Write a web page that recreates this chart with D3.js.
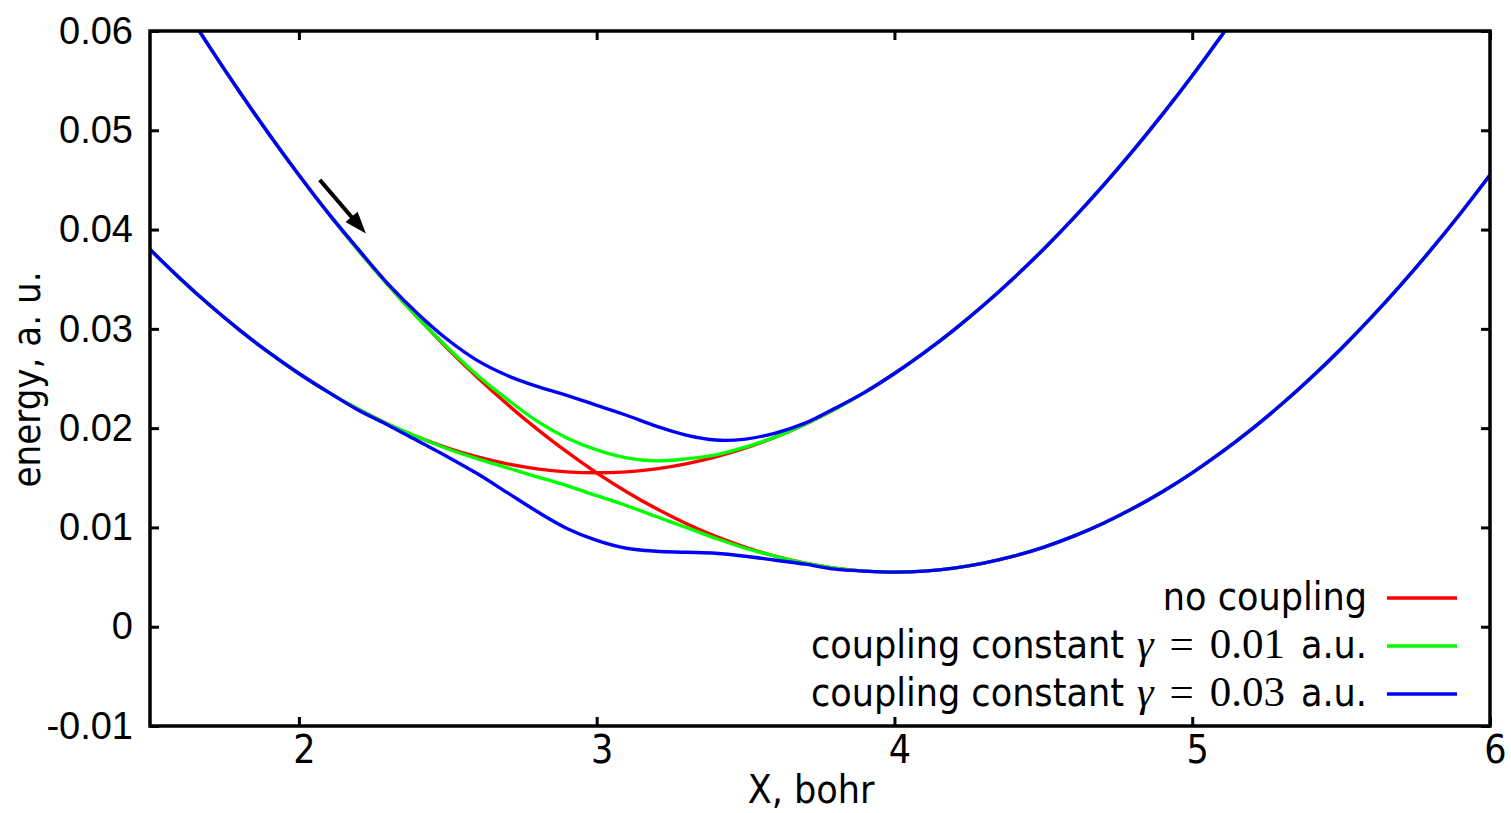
<!DOCTYPE html>
<html>
<head>
<meta charset="utf-8">
<script src="https://cdn.jsdelivr.net/npm/d3@7/dist/d3.min.js"></script>
<style>
  body { margin: 0; background: #fff; }
  svg { display: block; }
  .sans { font-family: "DejaVu Sans Condensed", "DejaVu Sans", sans-serif; font-stretch: condensed; }
  .math { font-family: "Liberation Serif", "DejaVu Serif", serif; }
  .axis--y text { font-family: "Liberation Sans", Arial, sans-serif; font-size: 38px; fill: #000; }
  .axis--x text { font-family: "DejaVu Sans Condensed", "DejaVu Sans", sans-serif; font-stretch: condensed; font-size: 39px; fill: #000; }
  .axis line { stroke: #000; stroke-width: 3px; }
</style>
</head>
<body>
<div id="chart"></div>
<script>

// Sampling grid along X (bohr)
var xGrid = [1.5, 1.6, 1.7, 1.8, 1.9, 2.0, 2.1, 2.2, 2.3, 2.4,
             2.5, 2.6, 2.7, 2.8, 2.9, 3.0, 3.1, 3.2, 3.3, 3.4,
             3.5, 3.6, 3.7, 3.8, 3.9, 4.0, 4.1, 4.2, 4.3, 4.4,
             4.5, 4.6, 4.7, 4.8, 4.9, 5.0, 5.1, 5.2, 5.3, 5.4,
             5.5, 5.6, 5.7, 5.8, 5.9, 6.0];

// No coupling: the two crossing curves
var noCouplingA = [0.0380, 0.0351, 0.0324, 0.0299, 0.0276, 0.0255, 0.0236, 0.0219, 0.0204, 0.0191,
                   0.0180, 0.0171, 0.0164, 0.0159, 0.0156, 0.0155, 0.0156, 0.0159, 0.0164, 0.0171,
                   0.0180, 0.0191, 0.0204, 0.0219, 0.0236, 0.0255, 0.0276, 0.0299, 0.0324, 0.0351,
                   0.0380, 0.0411, 0.0444, 0.0479, 0.0516, 0.0555, 0.0596, 0.0639, 0.0684, null,
                   null, null, null, null, null, null];
var noCouplingB = [0.0680, 0.0631, 0.0584, 0.0539, 0.0496, 0.0455, 0.0416, 0.0379, 0.0344, 0.0311,
                   0.0280, 0.0251, 0.0224, 0.0199, 0.0176, 0.0155, 0.0136, 0.0119, 0.0104, 0.0091,
                   0.0080, 0.0071, 0.0064, 0.0059, 0.0056, 0.0055, 0.0056, 0.0059, 0.0064, 0.0071,
                   0.0080, 0.0091, 0.0104, 0.0119, 0.0136, 0.0155, 0.0176, 0.0199, 0.0224, 0.0251,
                   0.0280, 0.0311, 0.0344, 0.0379, 0.0416, 0.0455];

// Coupling constant 0.01 a.u.
var weakUpper = [0.0680, 0.0631, 0.0584, 0.0539, 0.0496, 0.0455, 0.0416, 0.0379, 0.0344, 0.0311,
                 0.0281, 0.0253, 0.0229, 0.0207, 0.0190, 0.0178, 0.0170, 0.0167, 0.0169, 0.0173,
                 0.0181, 0.0191, 0.0204, 0.0219, 0.0236, 0.0255, 0.0276, 0.0299, 0.0324, 0.0351,
                 0.0380, 0.0411, 0.0444, 0.0479, 0.0516, 0.0555, 0.0596, 0.0639, 0.0684, null,
                 null, null, null, null, null, null];
var weakLower = [0.0380, 0.0351, 0.0324, 0.0299, 0.0276, 0.0255, 0.0236, 0.0219, 0.0204, 0.0191,
                 0.0179, 0.0169, 0.0160, 0.0151, 0.0142, 0.0132, 0.0122, 0.0111, 0.0100, 0.0089,
                 0.0079, 0.0071, 0.0064, 0.0059, 0.0056, 0.0055, 0.0056, 0.0059, 0.0064, 0.0071,
                 0.0080, 0.0091, 0.0104, 0.0119, 0.0136, 0.0155, 0.0176, 0.0199, 0.0224, 0.0251,
                 0.0280, 0.0311, 0.0344, 0.0379, 0.0416, 0.0455];

// Coupling constant 0.03 a.u.
var strongUpper = [0.0680, 0.0631, 0.0584, 0.0539, 0.0496, 0.0455, 0.0416, 0.0380, 0.0345, 0.0315,
                   0.0289, 0.0268, 0.0253, 0.0242, 0.0233, 0.0223, 0.0213, 0.0202, 0.0193, 0.0188,
                   0.0189, 0.0195, 0.0205, 0.0220, 0.0236, 0.0255, 0.0276, 0.0299, 0.0324, 0.0351,
                   0.0380, 0.0411, 0.0444, 0.0479, 0.0516, 0.0555, 0.0596, 0.0639, 0.0684, null,
                   null, null, null, null, null, null];
var strongLower = [0.0380, 0.0351, 0.0324, 0.0299, 0.0276, 0.0255, 0.0236, 0.0218, 0.0203, 0.0187,
                   0.0171, 0.0154, 0.0135, 0.0116, 0.0099, 0.0087, 0.0079, 0.0076, 0.0075, 0.0074,
                   0.0071, 0.0067, 0.0063, 0.0058, 0.0056, 0.0055, 0.0056, 0.0059, 0.0064, 0.0071,
                   0.0080, 0.0091, 0.0104, 0.0119, 0.0136, 0.0155, 0.0176, 0.0199, 0.0224, 0.0251,
                   0.0280, 0.0311, 0.0344, 0.0379, 0.0416, 0.0455];

// Ticks
var xTicks = [2, 3, 4, 5, 6];
var yTicks = [-0.01, 0, 0.01, 0.02, 0.03, 0.04, 0.05, 0.06];
var yTickLabels = ["-0.01", "0", "0.01", "0.02", "0.03", "0.04", "0.05", "0.06"];

// Legend entries
var legendNames = ["no coupling", "coupling constant", "coupling constant"];
var legendGamma = [null, "0.01", "0.03"];
var legendColors = ["#ff0000", "#00ff00", "#0000ff"];

// Arrow annotation (from, to) in data units
var arrowFrom = [2.07, 0.0450];
var arrowTo = [2.225, 0.0396];

// Set up the svg
var svg = d3.select("#chart").append("svg")
    .attr("width", 1511)
    .attr("height", 813),
    margin = {top: 31, right: 21, bottom: 87, left: 150},
    width = 1511 - margin.left - margin.right,
    height = 813 - margin.top - margin.bottom,
    g = svg.append("g").attr("transform", "translate(" + margin.left + "," + margin.top + ")");

// Scales
var x = d3.scaleLinear()
    .domain([1.5, 6])
    .range([0, width]);

var y = d3.scaleLinear()
    .domain([-0.01, 0.06])
    .range([height, 0]);

// Clip the curves to the frame
g.append("clipPath")
    .attr("id", "clip")
  .append("rect")
    .attr("width", width)
    .attr("height", height);

// Axes: ticks point inward, mirrored on top and right
g.append("g")
    .attr("class", "axis axis--y")
    .call(d3.axisLeft(y)
        .tickValues(yTicks)
        .tickSize(-9)
        .tickPadding(17)
        .tickFormat(function(d, i) { return yTickLabels[i]; }))
    .call(function(s) { s.select(".domain").remove(); });

g.append("g")
    .attr("class", "axis")
    .attr("transform", "translate(" + width + ",0)")
    .call(d3.axisRight(y).tickValues(yTicks).tickSize(-9).tickFormat(""))
    .call(function(s) { s.select(".domain").remove(); });

g.append("g")
    .attr("class", "axis axis--x")
    .attr("transform", "translate(0," + height + ")")
    .call(d3.axisBottom(x)
        .tickValues(xTicks)
        .tickSize(-9)
        .tickPadding(9)
        .tickFormat(d3.format("d")))
    .call(function(s) { s.select(".domain").remove(); })
  .selectAll("text")
    .attr("dx", 5);

g.append("g")
    .attr("class", "axis")
    .call(d3.axisTop(x).tickValues(xTicks).tickSize(-9).tickFormat(""))
    .call(function(s) { s.select(".domain").remove(); });

// The curves
var line = d3.line()
    .defined(function(d) { return d[1] != null; })
    .curve(d3.curveCatmullRom.alpha(0.5))
    .x(function(d) { return x(d[0]); })
    .y(function(d) { return y(d[1]); });

function pairs(ys) {
  return xGrid.map(function(v, i) { return [v, ys[i]]; });
}

var series = [
  {values: noCouplingA, color: legendColors[0]},
  {values: noCouplingB, color: legendColors[0]},
  {values: weakUpper, color: legendColors[1]},
  {values: weakLower, color: legendColors[1]},
  {values: strongUpper, color: legendColors[2]},
  {values: strongLower, color: legendColors[2]}
];

g.append("g")
    .attr("clip-path", "url(#clip)")
  .selectAll("path")
  .data(series)
  .enter().append("path")
    .attr("fill", "none")
    .attr("stroke", function(d) { return d.color; })
    .attr("stroke-width", 3.4)
    .attr("stroke-linejoin", "round")
    .attr("d", function(d) { return line(pairs(d.values)); });

// Arrow
var ax0 = x(arrowFrom[0]), ay0 = y(arrowFrom[1]),
    ax1 = x(arrowTo[0]), ay1 = y(arrowTo[1]),
    ang = Math.atan2(ay1 - ay0, ax1 - ax0),
    headLen = 22, headHalf = 8;

g.append("line")
    .attr("x1", ax0).attr("y1", ay0)
    .attr("x2", ax1 - headLen * 0.8 * Math.cos(ang))
    .attr("y2", ay1 - headLen * 0.8 * Math.sin(ang))
    .attr("stroke", "#000")
    .attr("stroke-width", 4);

g.append("path")
    .attr("fill", "#000")
    .attr("d", "M" + ax1 + "," + ay1 +
      "L" + (ax1 - headLen * Math.cos(ang) + headHalf * Math.sin(ang)) + "," + (ay1 - headLen * Math.sin(ang) - headHalf * Math.cos(ang)) +
      "L" + (ax1 - headLen * Math.cos(ang) - headHalf * Math.sin(ang)) + "," + (ay1 - headLen * Math.sin(ang) + headHalf * Math.cos(ang)) + "Z");

// Frame
g.append("rect")
    .attr("width", width)
    .attr("height", height)
    .attr("fill", "none")
    .attr("stroke", "#000")
    .attr("stroke-width", 3.5);

// Axis labels
svg.append("text")
    .attr("class", "sans")
    .attr("x", margin.left + x(3.72))
    .attr("y", 803)
    .attr("text-anchor", "middle")
    .attr("font-size", 39)
    .text("X, bohr");

svg.append("text")
    .attr("class", "sans")
    .attr("transform", "translate(40," + (margin.top + y(0.0249)) + ") rotate(-90)")
    .attr("text-anchor", "middle")
    .attr("font-size", 38)
    .text("energy, a. u.");

// Legend (bottom right, text right-aligned before the sample line)
var legend = g.append("g")
    .attr("transform", "translate(" + (width - 103) + "," + (height - 128) + ")");

var rows = legend.selectAll("g")
  .data(legendNames)
  .enter().append("g")
    .attr("transform", function(d, i) { return "translate(0," + (i * 48) + ")"; });

rows.append("line")
    .attr("x1", 0).attr("x2", 70)
    .attr("stroke", function(d, i) { return legendColors[i]; })
    .attr("stroke-width", 3.4);

var label = rows.append("text")
    .attr("text-anchor", "end")
    .attr("x", -20)
    .attr("y", 12)
    .attr("font-size", 39);

label.append("tspan")
    .attr("class", "sans")
    .text(function(d) { return d; });

label.each(function(d, i) {
    if (legendGamma[i] == null) return;
    var t = d3.select(this);
    t.append("tspan").attr("class", "math").attr("font-style", "italic").attr("font-size", 42).attr("dx", 13).text("\u03b3");
    t.append("tspan").attr("class", "math").attr("font-size", 43).attr("dx", 16).text("=");
    t.append("tspan").attr("class", "math").attr("font-size", 43).attr("dx", 16).text(legendGamma[i]);
    t.append("tspan").attr("class", "sans").attr("dx", 16).text("a.u.");
  });

</script>
</body>
</html>
